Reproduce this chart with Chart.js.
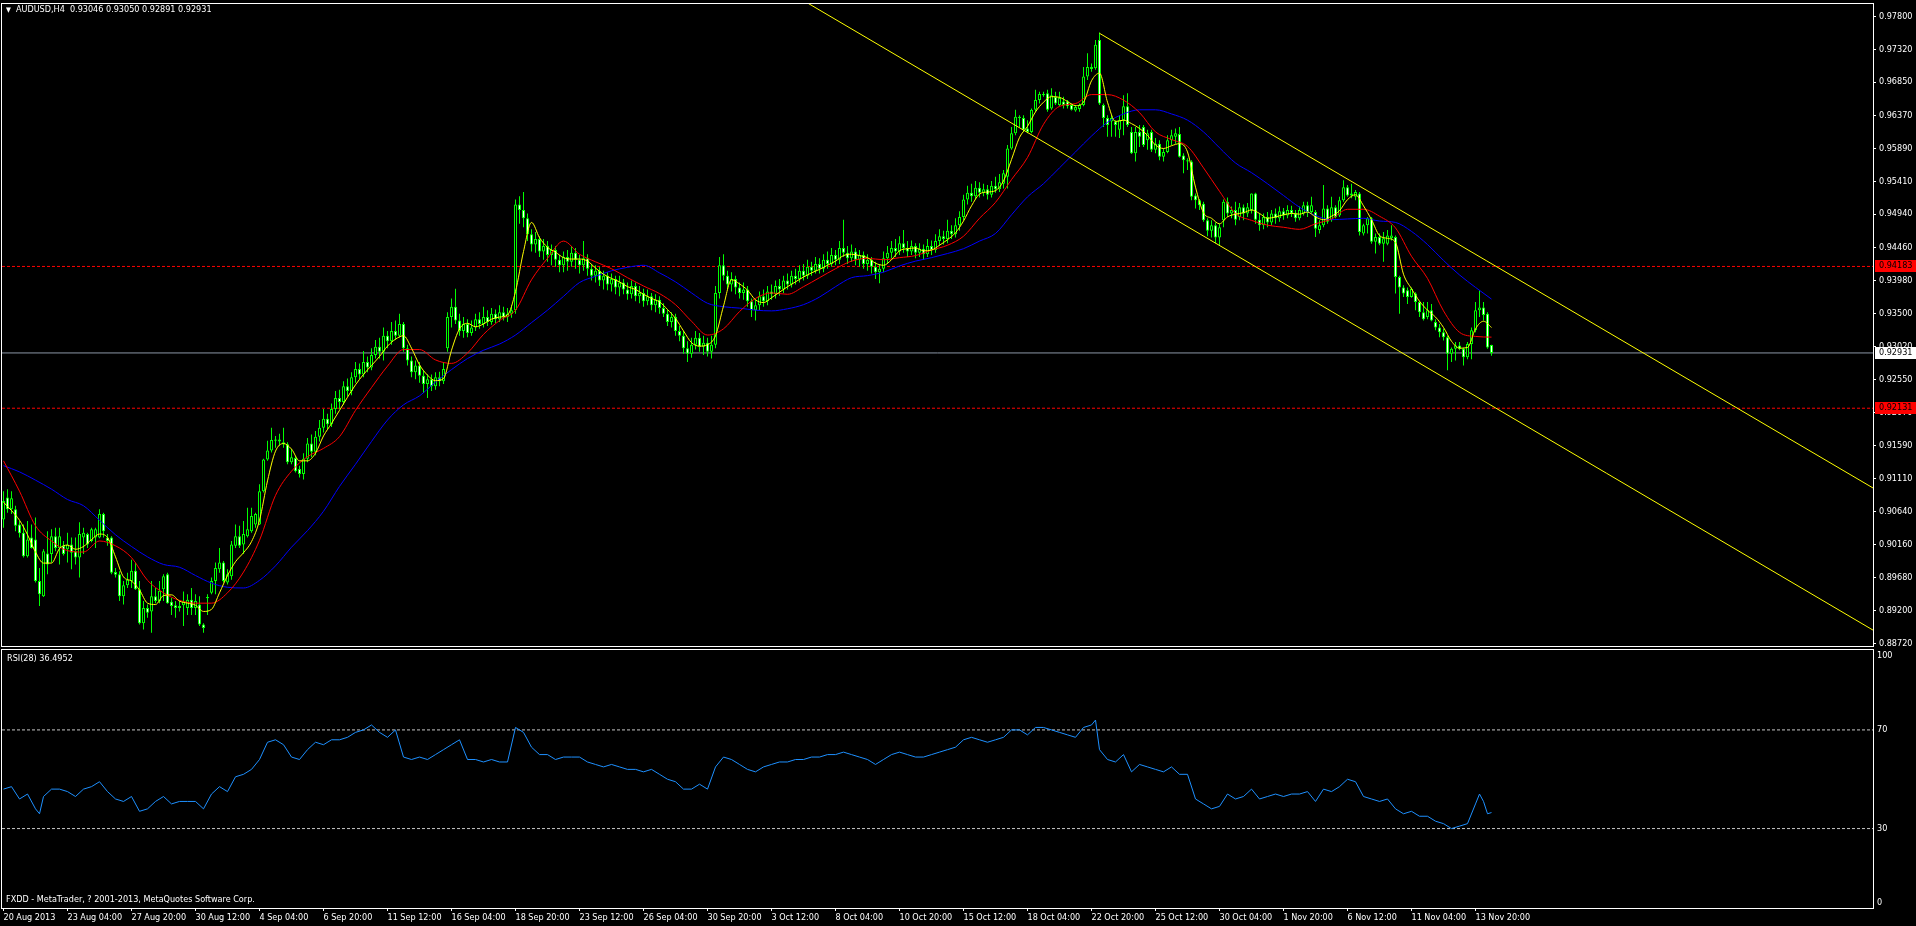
<!DOCTYPE html>
<html>
<head>
<meta charset="utf-8">
<title>AUDUSD,H4</title>
<script src="https://cdn.jsdelivr.net/npm/chart.js@4.4.1/dist/chart.umd.min.js"></script>
<style>
  html, body { margin: 0; padding: 0; background: #000; overflow: hidden; }
  #screen { position: relative; width: 1916px; height: 926px; background: #000; }
  #screen canvas { position: absolute; left: 0; }
  .txt { position: absolute; color: #fff; font: 9px "DejaVu Sans Condensed", "Liberation Sans", sans-serif; white-space: pre; line-height: 11px; }
</style>
</head>
<body>
<div id="screen">
  <canvas id="priceChart" width="1916" height="656" style="top:0"></canvas>
  <canvas id="rsiChart" width="1916" height="278" style="top:648px"></canvas>
  <div class="txt" id="hdr" style="left:6px;top:4px"></div>
  <div class="txt" id="rsiHdr" style="left:7px;top:653px"></div>
  <div class="txt" style="left:6px;top:894px">FXDD - MetaTrader, ? 2001-2013, MetaQuotes Software Corp.</div>
</div>
<script>
// ---- data: AUDUSD H4, one entry per bar (bar 0 = 20 Aug 2013 12:00) ----
const symbol = 'AUDUSD,H4';

const opens = [
  0.9052,0.9084,0.9067,0.9067,0.9045,0.9033,0.8999,0.9026,0.9023,0.8963,0.8941,0.9003,0.9002,0.9028,0.9011,0.9014,
  0.9009,0.9016,0.9006,0.8997,0.9026,0.9031,0.9021,0.9026,0.9026,0.9060,0.9026,0.9026,0.8976,0.8973,0.8941,0.8957,
  0.8963,0.8978,0.8951,0.8902,0.8924,0.8919,0.8941,0.8934,0.8951,0.8973,0.8933,0.8928,0.8924,0.8928,0.8924,0.8936,
  0.8924,0.8929,0.8900,0.8938,0.8946,0.8963,0.8980,0.8990,0.8961,0.8970,0.9014,0.9028,0.9016,0.9028,0.9035,0.9045,
  0.9045,0.9093,0.9139,0.9152,0.9166,0.9168,0.9164,0.9161,0.9135,0.9141,0.9125,0.9118,0.9140,0.9162,0.9150,0.9172,
  0.9185,0.9198,0.9190,0.9212,0.9228,0.9222,0.9245,0.9238,0.9258,0.9270,0.9262,0.9280,0.9272,0.9290,0.9302,0.9295,
  0.9318,0.9310,0.9325,0.9318,0.9335,0.9300,0.9282,0.9265,0.9275,0.9260,0.9248,0.9255,0.9245,0.9258,0.9252,0.9300,
  0.9345,0.9360,0.9340,0.9325,0.9335,0.9322,0.9330,0.9342,0.9335,0.9345,0.9338,0.9350,0.9342,0.9352,0.9345,0.9350,
  0.9355,0.9508,0.9500,0.9488,0.9465,0.9450,0.9458,0.9440,0.9448,0.9435,0.9442,0.9428,0.9420,0.9432,0.9425,0.9438,
  0.9428,0.9420,0.9430,0.9415,0.9405,0.9412,0.9398,0.9405,0.9392,0.9400,0.9388,0.9395,0.9385,0.9378,0.9390,0.9375,
  0.9380,0.9368,0.9375,0.9362,0.9370,0.9358,0.9350,0.9338,0.9345,0.9325,0.9318,0.9300,0.9292,0.9305,0.9315,0.9302,
  0.9308,0.9295,0.9305,0.9380,0.9420,0.9405,0.9392,0.9400,0.9388,0.9380,0.9385,0.9368,0.9355,0.9362,0.9375,0.9368,
  0.9382,0.9378,0.9390,0.9385,0.9398,0.9392,0.9405,0.9400,0.9412,0.9405,0.9418,0.9412,0.9422,0.9415,0.9428,0.9422,
  0.9435,0.9428,0.9445,0.9438,0.9430,0.9440,0.9428,0.9435,0.9422,0.9428,0.9418,0.9410,0.9415,0.9430,0.9438,0.9445,
  0.9440,0.9452,0.9445,0.9440,0.9448,0.9438,0.9444,0.9436,0.9448,0.9442,0.9455,0.9462,0.9458,0.9470,0.9465,0.9478,
  0.9490,0.9515,0.9525,0.9520,0.9532,0.9525,0.9530,0.9522,0.9535,0.9530,
  0.9538,0.9548,0.9589,0.9611,0.9635,0.9633,0.9618,0.9613,0.9645,0.9659,0.9668,0.9669,0.9647,0.9664,0.9652,0.9657,
  0.9657,0.9652,0.9644,0.9646,0.9652,0.9693,0.9704,0.9705,0.9746,0.9652,0.9633,0.9628,0.9628,0.9616,0.9630,0.9650,
  0.9613,0.9582,0.9613,0.9620,0.9601,0.9613,0.9587,0.9596,0.9577,0.9584,0.9601,0.9606,0.9610,0.9579,0.9572,0.9570,
  0.9521,0.9514,0.9509,0.9485,0.9470,0.9478,0.9460,0.9485,0.9512,0.9495,0.9500,0.9490,0.9504,0.9495,0.9500,0.9524,
  0.9486,0.9478,0.9490,0.9482,0.9495,0.9488,0.9498,0.9492,0.9500,0.9495,0.9488,0.9495,0.9507,0.9497,0.9497,0.9471,
  0.9478,0.9502,0.9485,0.9504,0.9492,0.9514,0.9533,0.9521,0.9519,0.9524,0.9466,0.9478,0.9488,0.9454,0.9461,0.9451,
  0.9451,0.9459,0.9461,0.9403,0.9388,0.9384,0.9374,0.9379,0.9367,0.9352,0.9345,0.9355,0.9338,0.9330,0.9323,0.9316,
  0.9292,0.9299,0.9304,0.9299,0.9287,0.9306,0.9326,0.9355,0.9359,0.9350,0.93046
];
const highs = [
  0.9093,0.9096,0.9093,0.9072,0.9050,0.9045,0.9050,0.9045,0.9055,0.8982,0.9009,0.9035,0.9038,0.9040,0.9040,0.9021,
  0.9033,0.9026,0.9026,0.9048,0.9040,0.9033,0.9040,0.9040,0.9067,0.9062,0.9031,0.9028,0.8982,0.8977,0.8963,0.8975,
  0.8994,0.8990,0.8963,0.8934,0.8929,0.8963,0.8953,0.8963,0.8973,0.8975,0.8939,0.8934,0.8934,0.8948,0.8944,0.8953,
  0.8944,0.8941,0.8902,0.8944,0.8968,0.8990,0.9011,0.8992,0.8980,0.9021,0.9045,0.9043,0.9050,0.9069,0.9069,0.9062,
  0.9103,0.9140,0.9166,0.9185,0.9173,0.9176,0.9185,0.9164,0.9154,0.9144,0.9130,0.9148,0.9170,0.9175,0.9180,0.9196,
  0.9212,0.9205,0.9220,0.9238,0.9240,0.9252,0.9256,0.9265,0.9280,0.9278,0.9296,0.9288,0.9300,0.9312,0.9315,0.9330,
  0.9325,0.9338,0.9340,0.9350,0.9338,0.9305,0.9288,0.9282,0.9280,0.9268,0.9262,0.9262,0.9265,0.9266,0.9280,0.9352,
  0.9372,0.9386,0.9350,0.9345,0.9342,0.9340,0.9350,0.9352,0.9360,0.9355,0.9358,0.9356,0.9362,0.9360,0.9358,0.9362,
  0.9515,0.9520,0.9526,0.9495,0.9472,0.9468,0.9462,0.9458,0.9455,0.9450,0.9448,0.9435,0.9440,0.9442,0.9448,0.9445,
  0.9435,0.9455,0.9436,0.9422,0.9420,0.9418,0.9412,0.9410,0.9408,0.9405,0.9405,0.9400,0.9395,0.9398,0.9395,0.9390,
  0.9386,0.9385,0.9380,0.9378,0.9375,0.9365,0.9356,0.9352,0.9350,0.9332,0.9325,0.9310,0.9315,0.9325,0.9322,0.9318,
  0.9315,0.9318,0.9390,0.9432,0.9436,0.9412,0.9410,0.9405,0.9395,0.9395,0.9390,0.9372,0.9370,0.9382,0.9385,0.9390,
  0.9392,0.9398,0.9400,0.9405,0.9408,0.9412,0.9415,0.9420,0.9422,0.9428,0.9425,0.9432,0.9430,0.9436,0.9440,0.9445,
  0.9442,0.9455,0.9486,0.9448,0.9450,0.9445,0.9442,0.9440,0.9436,0.9432,0.9425,0.9422,0.9440,0.9448,0.9455,0.9458,
  0.9462,0.9471,0.9455,0.9456,0.9452,0.9452,0.9450,0.9458,0.9456,0.9465,0.9472,0.9470,0.9486,0.9478,0.9488,0.9498,
  0.9522,0.9535,0.9538,0.9542,0.9540,0.9538,0.9536,0.9542,0.9548,0.9552,
  0.9558,0.9594,0.9620,0.9645,0.9637,0.9637,0.9630,0.9647,0.9674,0.9671,0.9671,0.9674,0.9676,0.9671,0.9671,0.9664,
  0.9659,0.9654,0.9652,0.9654,0.9707,0.9727,0.9712,0.9746,0.9757,0.9654,0.9637,0.9637,0.9630,0.9637,0.9666,0.9669,
  0.9620,0.9620,0.9623,0.9623,0.9616,0.9616,0.9604,0.9601,0.9589,0.9608,0.9616,0.9618,0.9620,0.9582,0.9575,0.9572,
  0.9524,0.9516,0.9512,0.9488,0.9485,0.9482,0.9480,0.9515,0.9518,0.9505,0.9512,0.9510,0.9508,0.9510,0.9524,0.9525,
  0.9495,0.9495,0.9497,0.9500,0.9502,0.9505,0.9503,0.9507,0.9506,0.9500,0.9505,0.9512,0.9512,0.9519,0.9500,0.9485,
  0.9536,0.9507,0.9519,0.9507,0.9519,0.9543,0.9536,0.9538,0.9529,0.9526,0.9480,0.9490,0.9490,0.9466,0.9466,0.9468,
  0.9471,0.9478,0.9463,0.9405,0.9391,0.9388,0.9388,0.9381,0.9368,0.9367,0.9367,0.9364,0.9342,0.9335,0.9328,0.9318,
  0.9301,0.9309,0.9309,0.9301,0.9309,0.9330,0.9367,0.9384,0.9367,0.9352,0.93050
];
const lows = [
  0.9040,0.9062,0.9060,0.9035,0.9026,0.8997,0.8997,0.9010,0.8961,0.8927,0.8940,0.8973,0.8990,0.9006,0.8987,0.9000,
  0.8990,0.8980,0.8987,0.8968,0.9002,0.9011,0.9019,0.9011,0.9025,0.9026,0.9014,0.8973,0.8968,0.8934,0.8929,0.8953,
  0.8953,0.8950,0.8900,0.8893,0.8910,0.8888,0.8931,0.8931,0.8934,0.8930,0.8914,0.8910,0.8919,0.8898,0.8914,0.8914,
  0.8914,0.8898,0.8888,0.8914,0.8944,0.8944,0.8975,0.8961,0.8958,0.8965,0.9011,0.9011,0.9002,0.9026,0.9033,0.9040,
  0.9044,0.9091,0.9137,0.9149,0.9156,0.9159,0.9156,0.9132,0.9132,0.9120,0.9113,0.9110,0.9135,0.9142,0.9145,0.9165,
  0.9178,0.9182,0.9186,0.9205,0.9212,0.9218,0.9230,0.9232,0.9250,0.9255,0.9258,0.9265,0.9268,0.9285,0.9285,0.9282,
  0.9300,0.9305,0.9312,0.9315,0.9295,0.9275,0.9258,0.9255,0.9250,0.9235,0.9228,0.9238,0.9240,0.9245,0.9248,0.9295,
  0.9330,0.9335,0.9318,0.9315,0.9316,0.9318,0.9325,0.9328,0.9330,0.9332,0.9334,0.9336,0.9338,0.9340,0.9338,0.9344,
  0.9350,0.9480,0.9475,0.9455,0.9440,0.9438,0.9432,0.9428,0.9425,0.9420,0.9418,0.9410,0.9410,0.9412,0.9418,0.9415,
  0.9408,0.9412,0.9405,0.9398,0.9395,0.9390,0.9385,0.9384,0.9382,0.9378,0.9375,0.9378,0.9370,0.9372,0.9368,0.9365,
  0.9360,0.9362,0.9355,0.9352,0.9350,0.9345,0.9332,0.9330,0.9318,0.9310,0.9292,0.9280,0.9286,0.9298,0.9295,0.9290,
  0.9288,0.9285,0.9300,0.9372,0.9398,0.9385,0.9382,0.9378,0.9372,0.9370,0.9360,0.9345,0.9340,0.9355,0.9360,0.9362,
  0.9370,0.9372,0.9376,0.9380,0.9385,0.9388,0.9392,0.9395,0.9398,0.9400,0.9405,0.9408,0.9408,0.9410,0.9415,0.9418,
  0.9420,0.9422,0.9432,0.9422,0.9425,0.9420,0.9418,0.9415,0.9412,0.9408,0.9400,0.9394,0.9410,0.9422,0.9430,0.9432,
  0.9435,0.9438,0.9432,0.9435,0.9430,0.9432,0.9428,0.9432,0.9435,0.9438,0.9448,0.9450,0.9452,0.9458,0.9460,0.9470,
  0.9485,0.9508,0.9512,0.9515,0.9518,0.9520,0.9515,0.9518,0.9525,0.9526,
  0.9531,0.9531,0.9587,0.9608,0.9620,0.9613,0.9611,0.9611,0.9642,0.9654,0.9664,0.9642,0.9645,0.9652,0.9650,0.9647,
  0.9647,0.9644,0.9642,0.9642,0.9650,0.9688,0.9700,0.9703,0.9652,0.9620,0.9606,0.9606,0.9606,0.9604,0.9608,0.9620,
  0.9581,0.9570,0.9591,0.9591,0.9587,0.9584,0.9582,0.9572,0.9570,0.9582,0.9594,0.9596,0.9576,0.9553,0.9558,0.9514,
  0.9502,0.9500,0.9483,0.9462,0.9460,0.9452,0.9448,0.9475,0.9490,0.9488,0.9478,0.9485,0.9485,0.9490,0.9495,0.9480,
  0.9470,0.9472,0.9475,0.9478,0.9480,0.9483,0.9486,0.9488,0.9490,0.9483,0.9485,0.9492,0.9490,0.9495,0.9461,0.9466,
  0.9475,0.9480,0.9483,0.9488,0.9490,0.9512,0.9519,0.9517,0.9514,0.9463,0.9463,0.9466,0.9451,0.9437,0.9449,0.9425,
  0.9449,0.9456,0.9379,0.9350,0.9374,0.9364,0.9373,0.9355,0.9345,0.9340,0.9342,0.9339,0.9326,0.9316,0.9311,0.9268,
  0.9280,0.9282,0.9297,0.9275,0.9284,0.9284,0.9323,0.9345,0.9340,0.9299,0.92891
];
const closes = [
  0.9079,0.9067,0.9083,0.9043,0.9032,0.8999,0.9023,0.9011,0.8963,0.8944,0.9006,0.8987,0.9028,0.9011,0.9028,0.9002,
  0.9016,0.9004,0.8997,0.9031,0.9033,0.9016,0.9038,0.9038,0.9060,0.9035,0.9021,0.8975,0.8972,0.8941,0.8957,0.8965,
  0.8978,0.8951,0.8902,0.8924,0.8917,0.8941,0.8934,0.8949,0.8970,0.8931,0.8927,0.8924,0.8927,0.8933,0.8936,0.8924,
  0.8934,0.8900,0.8895,0.8940,0.8963,0.8982,0.8990,0.8963,0.8973,0.9016,0.9028,0.9014,0.9031,0.9038,0.9057,0.9060,
  0.9093,0.9139,0.9152,0.9167,0.9168,0.9165,0.9161,0.9135,0.9142,0.9122,0.9118,0.9140,0.9162,0.9150,0.9172,0.9185,
  0.9198,0.9190,0.9212,0.9228,0.9222,0.9245,0.9238,0.9258,0.9270,0.9262,0.9280,0.9272,0.9290,0.9302,0.9295,0.9318,
  0.9310,0.9325,0.9318,0.9335,0.9300,0.9282,0.9265,0.9275,0.9260,0.9248,0.9255,0.9245,0.9258,0.9252,0.9270,0.9345,
  0.9360,0.9340,0.9325,0.9335,0.9322,0.9330,0.9342,0.9335,0.9345,0.9338,0.9350,0.9342,0.9352,0.9345,0.9350,0.9355,
  0.9508,0.9500,0.9488,0.9465,0.9450,0.9458,0.9440,0.9448,0.9435,0.9442,0.9428,0.9420,0.9432,0.9425,0.9438,0.9428,
  0.9420,0.9430,0.9415,0.9405,0.9412,0.9398,0.9405,0.9392,0.9400,0.9388,0.9395,0.9385,0.9378,0.9390,0.9375,0.9380,
  0.9368,0.9375,0.9362,0.9370,0.9358,0.9350,0.9338,0.9345,0.9325,0.9318,0.9300,0.9292,0.9305,0.9315,0.9302,0.9308,
  0.9295,0.9305,0.9380,0.9420,0.9405,0.9392,0.9400,0.9388,0.9380,0.9385,0.9368,0.9355,0.9362,0.9375,0.9368,0.9382,
  0.9378,0.9390,0.9385,0.9398,0.9392,0.9405,0.9400,0.9412,0.9405,0.9418,0.9412,0.9422,0.9415,0.9428,0.9422,0.9435,
  0.9428,0.9445,0.9438,0.9430,0.9440,0.9428,0.9435,0.9422,0.9428,0.9418,0.9410,0.9415,0.9430,0.9438,0.9445,0.9440,
  0.9452,0.9445,0.9440,0.9448,0.9438,0.9444,0.9436,0.9448,0.9442,0.9455,0.9462,0.9458,0.9470,0.9465,0.9478,0.9490,
  0.9515,0.9525,0.9520,0.9532,0.9525,0.9530,0.9522,0.9535,0.9530,0.9540,
  0.9553,0.9589,0.9611,0.9635,0.9633,0.9616,0.9613,0.9645,0.9659,0.9668,0.9666,0.9645,0.9666,0.9654,0.9662,0.9652,
  0.9650,0.9645,0.9649,0.9652,0.9693,0.9707,0.9707,0.9739,0.9654,0.9633,0.9623,0.9633,0.9623,0.9630,0.9650,0.9623,
  0.9582,0.9613,0.9606,0.9594,0.9611,0.9587,0.9596,0.9577,0.9584,0.9601,0.9608,0.9611,0.9577,0.9572,0.9570,0.9519,
  0.9514,0.9507,0.9485,0.9470,0.9478,0.9460,0.9475,0.9512,0.9495,0.9500,0.9486,0.9504,0.9495,0.9504,0.9524,0.9486,
  0.9478,0.9490,0.9482,0.9495,0.9488,0.9498,0.9492,0.9500,0.9495,0.9488,0.9500,0.9507,0.9497,0.9507,0.9473,0.9478,
  0.9502,0.9483,0.9504,0.9490,0.9514,0.9533,0.9521,0.9524,0.9526,0.9468,0.9478,0.9488,0.9454,0.9461,0.9451,0.9459,
  0.9463,0.9463,0.9403,0.9388,0.9379,0.9374,0.9386,0.9367,0.9352,0.9342,0.9355,0.9340,0.9330,0.9323,0.9316,0.9292,
  0.9299,0.9304,0.9299,0.9287,0.9306,0.9326,0.9355,0.9359,0.9348,0.9301,0.92931
];

// moving averages: yellow every 2 bars, red and blue every 4 bars
const yellowStep = 2, redStep = 4, blueStep = 4;
const yellowMA = [
  0.9077,0.9065,0.9051,0.9030,0.9005,0.8989,0.8989,0.9010,0.9015,0.9009,0.9013,0.9023,0.9031,0.9026,0.8998,0.8969,
  0.8963,0.8950,0.8931,0.8929,0.8942,0.8943,0.8934,0.8931,0.8928,0.8919,0.8922,0.8946,0.8971,0.8991,0.9004,0.9020,
  0.9051,0.9108,0.9151,0.9162,0.9154,0.9137,
  0.9137,0.9148,0.9173,0.9191,0.9210,0.9229,0.9247,0.9262,0.9275,0.9288,0.9303,0.9313,0.9318,0.9300,0.9276,0.9261,
  0.9253,0.9256,0.9297,0.9328,0.9336,0.9331,0.9335,0.9342,0.9345,0.9348,0.9382,0.9440,0.9482,0.9460,0.9446,0.9439,
  0.9431,0.9429,0.9429,0.9426,0.9416,0.9407,0.9401,0.9396,0.9389,0.9385,0.9378,0.9372,0.9367,0.9356,0.9343,0.9325,
  0.9308,0.9303,0.9305,0.9318,0.9361,0.9399,0.9393,0.9384,0.9370,0.9366,0.9373,0.9381,0.9389,0.9396,0.9403,0.9409,
  0.9414,0.9420,0.9426,0.9434,0.9436,0.9434,0.9431,0.9423,0.9420,0.9428,0.9441,0.9444,0.9445,0.9441,0.9442,0.9449,
  0.9457,0.9467,0.9484,0.9506,0.9523,0.9526,0.9528,
  0.9542,0.9573,0.9605,0.9621,0.9642,0.9656,0.9664,0.9663,0.9657,0.9651,0.9656,0.9687,0.9698,0.9656,0.9628,0.9630,
  0.9625,0.9618,0.9608,0.9594,0.9589,0.9593,0.9596,0.9584,0.9533,0.9496,
  0.9488,0.9480,0.9490,0.9494,0.9496,0.9500,0.9495,0.9488,0.9490,0.9493,0.9495,0.9494,
  0.9497,0.9490,0.9486,0.9491,0.9499,0.9515,0.9522,0.9506,0.9486,0.9463,0.9459,0.9453,0.9407,0.9386,0.9368,0.9355,
  0.9345,0.9330,0.9310,0.9300,0.9301,0.9328,0.9339,0.9330
];
const redMA = [
  0.9137,0.9093,0.9043,0.9021,0.9007,0.9005,0.9021,0.9014,0.8997,0.8964,0.8946,0.8935,0.8931,0.8931,0.8946,0.8976,
  0.9022,0.9087,0.9122,
  0.9143,0.9155,0.9172,0.9210,0.9243,0.9274,0.9298,0.9298,0.9283,0.9278,0.9293,0.9320,0.9340,0.9355,0.9399,0.9430,
  0.9455,0.9436,0.9425,0.9415,0.9402,0.9390,0.9379,0.9363,0.9339,0.9319,0.9328,0.9353,0.9372,0.9380,0.9378,0.9389,
  0.9402,0.9415,0.9426,0.9430,0.9428,0.9431,0.9434,0.9442,0.9449,0.9462,0.9488,0.9511,
  0.9544,0.9576,0.9624,0.9650,0.9654,0.9667,0.9667,0.9659,0.9641,0.9613,0.9602,0.9592,0.9561,0.9527,0.9495,0.9485,
  0.9478,0.9475,0.9472,
  0.9480,0.9487,0.9501,0.9501,0.9491,0.9474,0.9433,0.9401,0.9354,0.9323,0.9317,0.9316
];
const blueMA = [
  0.9130,0.9121,0.9109,0.9096,0.9081,0.9072,0.9051,0.9030,0.9013,0.8998,0.8987,0.8983,0.8971,0.8960,0.8954,0.8953,
  0.8964,0.8985,0.9012,
  0.9036,0.9064,0.9100,0.9132,0.9165,0.9196,0.9218,0.9231,0.9251,0.9269,0.9285,0.9297,0.9306,0.9319,0.9337,0.9355,
  0.9375,0.9395,0.9404,0.9412,0.9417,0.9420,0.9409,0.9396,0.9380,0.9365,0.9360,0.9358,0.9355,0.9354,0.9357,0.9363,
  0.9374,0.9389,0.9402,0.9405,0.9410,0.9419,0.9426,0.9431,0.9437,0.9444,0.9455,0.9466,
  0.9493,0.9519,0.9538,0.9561,0.9584,0.9607,0.9627,0.9639,0.9645,0.9645,0.9639,0.9630,0.9613,0.9590,0.9568,0.9554,
  0.9538,0.9521,0.9504,
  0.9492,0.9486,0.9487,0.9488,0.9484,0.9482,0.9469,0.9450,0.9427,0.9406,0.9388,0.9371
];

// RSI(28) as [bar, value] points
const rsiPoints = [
  [0,46],[2,47],[4,42],[6,44],[8,38],[9,36],[10,43],[12,46],[14,46],[16,45],[18,43],[20,46],[22,47],[24,49],[26,45],
  [28,42],[30,41],[32,43],[34,37],[36,38],[38,41],[40,43],[42,40],[44,41],[46,41],[48,41],[50,38],[52,44],[54,47],
  [56,45],[58,51],[60,52],[62,54],[64,58],[66,65],[68,66],[70,64],[72,59],[74,58],[76,62],[78,65],[80,64],[82,66],
  [84,66],[86,67],[88,69],[90,70],[92,72],[94,69],[96,67],[98,70],[100,59],[102,58],[104,59],[106,58],[108,60],
  [110,62],[112,64],[114,66],[116,58],[118,58],[120,57],[122,58],[124,57],[126,57],[128,71],[130,69],[132,63],
  [134,60],[136,60],[138,58],[140,59],[142,59],[144,59],[146,57],[148,56],[150,55],[152,56],[154,55],[156,54],
  [158,54],[160,53],[162,54],[164,52],[166,50],[168,49],[170,46],[172,46],[174,48],[176,46],[178,55],[180,59],
  [182,58],[184,56],[186,54],[188,53],[190,55],[192,56],[194,57],[196,57],[198,58],[200,58],[202,59],[204,59],
  [206,60],[208,60],[210,61],[212,60],[214,59],[216,58],[218,56],[220,58],[222,60],[224,61],[226,60],[228,59],
  [230,59],[232,60],[234,61],[236,62],[238,63],[240,66],[242,67],[244,66],[246,65],[248,66],[250,67],[252,70],
  [254,70],[256,68],[258,71],[260,71],[262,70],[264,69],[266,68],[268,67],[270,71],[272,72],[273,74],[274,62],
  [276,58],[278,57],[280,60],[282,53],[284,56],[286,55],[288,54],[290,53],[292,55],[294,52],[296,52],[298,42],
  [300,40],[302,38],[304,39],[306,44],[308,42],[310,43],[312,46],[314,42],[316,43],[318,44],[320,43],[322,44],
  [324,44],[326,45],[328,41],[330,46],[332,45],[334,47],[336,50],[338,49],[340,43],[342,42],[344,41],[346,42],
  [348,38],[350,36],[352,37],[354,35],[356,35],[358,33],[360,32],[362,30],[364,31],[366,32],[368,40],[369,44],
  [370,41],[371,36],[372,36.4952]
];

// channel trend lines: [bar, price] anchor pairs
const upperChannel = [[274, 0.97557], [467.375, 0.90977]];
const lowerChannel = [[200, 0.98030], [467.375, 0.88920]];
const levelLines = [0.94183, 0.92131];
const rsiLevels = [70, 30];

const priceTicks = [0.97800,0.97320,0.96850,0.96370,0.95890,0.95410,0.94940,0.94460,0.93980,0.93500,
                    0.93020,0.92550,0.92070,0.91590,0.91110,0.90640,0.90160,0.89680,0.89200,0.88720];
const rsiTicks = [0, 30, 70, 100];
const tickStep = 16;
const tickLabels = ['20 Aug 2013','23 Aug 04:00','27 Aug 20:00','30 Aug 12:00','4 Sep 04:00','6 Sep 20:00',
  '11 Sep 12:00','16 Sep 04:00','18 Sep 20:00','23 Sep 12:00','26 Sep 04:00','30 Sep 20:00','3 Oct 12:00',
  '8 Oct 04:00','10 Oct 20:00','15 Oct 12:00','18 Oct 04:00','22 Oct 20:00','25 Oct 12:00','30 Oct 04:00',
  '1 Nov 20:00','6 Nov 12:00','11 Nov 04:00','13 Nov 20:00'];

// ---- view settings ----
const X_MIN = -0.375, X_MAX = 467.375;
const PRICE_MIN = 0.88690, PRICE_MAX = 0.97981;
const RSI_MIN = -2.2, RSI_MAX = 102.4;
const FONT = '"DejaVu Sans Condensed", "Liberation Sans", sans-serif';
const LIME = '#00ff00';

Chart.defaults.font.family = FONT;
Chart.defaults.font.size = 9;
Chart.defaults.color = '#ffffff';

const last = closes.length - 1;
const f5 = v => v.toFixed(5);
document.getElementById('hdr').innerHTML =
  '<span style="font-size:7px">&#9660;</span>  ' + symbol + '  ' +
  [opens[last], highs[last], lows[last], closes[last]].map(f5).join(' ');
document.getElementById('rsiHdr').textContent = 'RSI(28) ' + rsiPoints[rsiPoints.length - 1][1].toFixed(4);

// ---- build datasets ----
const wickData = [], bodyData = [];
closes.forEach((c, i) => {
  wickData.push({ x: i, y: [lows[i], highs[i]] });
  bodyData.push({ x: i, y: [Math.min(opens[i], c), Math.max(opens[i], c)], up: c > opens[i] });
});
const sampled = (arr, step) => arr.map((v, k) => ({ x: k * step, y: v }));
const hline = v => [{ x: X_MIN, y: v }, { x: X_MAX, y: v }];
const seg = pts => pts.map(p => ({ x: p[0], y: p[1] }));

const lineBase = { type: 'line', pointRadius: 0, borderWidth: 1, fill: false, spanGaps: false };
const barBase = { type: 'bar', grouped: false, barPercentage: 1, categoryPercentage: 1,
                  inflateAmount: 0, borderSkipped: false };

const framePlugin = {
  id: 'frame',
  afterDraw(chart) {
    const { ctx, chartArea: a } = chart;
    ctx.save();
    ctx.strokeStyle = '#ffffff';
    ctx.lineWidth = 1;
    ctx.strokeRect(a.left - 0.5, a.top - 0.5, a.right - a.left + 1, a.bottom - a.top + 1);
    ctx.restore();
  }
};

const levelTags = [
  { value: levelLines[0], bg: '#ff0000', fg: '#000000' },
  { value: levelLines[1], bg: '#ff0000', fg: '#000000' },
  { value: closes[last], bg: '#ffffff', fg: '#000000' }
];
const tagPlugin = {
  id: 'levelTags',
  afterDraw(chart) {
    const { ctx, chartArea: a, scales: { y } } = chart;
    ctx.save();
    ctx.font = '9px ' + FONT;
    ctx.textBaseline = 'middle';
    levelTags.forEach(t => {
      const py = Math.round(y.getPixelForValue(t.value));
      ctx.fillStyle = t.bg;
      ctx.fillRect(a.right + 2, py - 6, 41, 12);
      ctx.fillStyle = t.fg;
      ctx.fillText(f5(t.value), a.right + 6, py);
    });
    ctx.restore();
  }
};

// ---- price panel ----
new Chart(document.getElementById('priceChart'), {
  type: 'bar',
  data: {
    datasets: [
      { ...lineBase, data: seg(upperChannel), borderColor: '#ffff00', order: 0 },
      { ...lineBase, data: seg(lowerChannel), borderColor: '#ffff00', order: 0 },
      { ...lineBase, data: sampled(yellowMA, yellowStep), borderColor: '#ffff00', cubicInterpolationMode: 'monotone', order: 1 },
      { ...lineBase, data: sampled(redMA, redStep), borderColor: '#ff0000', cubicInterpolationMode: 'monotone', order: 2 },
      { ...lineBase, data: sampled(blueMA, blueStep), borderColor: '#0000ff', cubicInterpolationMode: 'monotone', order: 3 },
      { ...barBase, data: bodyData, barThickness: 3, maxBarThickness: 3, minBarLength: 1, borderWidth: 1,
        borderColor: LIME, backgroundColor: c => (c.raw && c.raw.up) ? '#000000' : '#ffffff', order: 5 },
      { ...barBase, data: wickData, barThickness: 1, maxBarThickness: 1, borderWidth: 0,
        backgroundColor: LIME, order: 6 },
      { ...lineBase, data: hline(closes[last]), borderColor: '#8c96a6', order: 8 },
      { ...lineBase, data: hline(levelLines[0]), borderColor: '#ff0000', borderDash: [3, 2], order: 8 },
      { ...lineBase, data: hline(levelLines[1]), borderColor: '#ff0000', borderDash: [3, 2], order: 8 }
    ]
  },
  options: {
    responsive: false,
    animation: false,
    events: [],
    layout: { padding: { left: 2, top: 4, bottom: 10, right: 0 } },
    plugins: { legend: { display: false }, tooltip: { enabled: false } },
    scales: {
      x: { type: 'linear', min: X_MIN, max: X_MAX, display: false, offset: false },
      y: {
        type: 'linear', position: 'right', min: PRICE_MIN, max: PRICE_MAX,
        afterBuildTicks: s => { s.ticks = priceTicks.map(v => ({ value: v })); },
        afterFit: s => { s.width = 43; s.paddingTop = 0; s.paddingBottom = 0; },
        ticks: { callback: v => f5(v), padding: 3, color: '#ffffff', autoSkip: false },
        grid: { drawOnChartArea: false, drawTicks: true, tickLength: 3, color: '#ffffff' },
        border: { display: true, color: '#ffffff' }
      }
    }
  },
  plugins: [framePlugin, tagPlugin]
});

// ---- RSI panel ----
new Chart(document.getElementById('rsiChart'), {
  type: 'line',
  data: {
    datasets: [
      { ...lineBase, data: seg(rsiPoints), borderColor: '#1e90ff', order: 1 },
      ...rsiLevels.map(v => ({ ...lineBase, data: hline(v), borderColor: '#c8c8c8', borderDash: [3, 2], order: 2 }))
    ]
  },
  options: {
    responsive: false,
    animation: false,
    events: [],
    layout: { padding: { left: 2, top: 2, bottom: 0, right: 0 } },
    plugins: { legend: { display: false }, tooltip: { enabled: false } },
    scales: {
      x: {
        type: 'linear', min: X_MIN, max: X_MAX, offset: false,
        afterBuildTicks: s => { s.ticks = tickLabels.map((t, i) => ({ value: i * tickStep })); },
        afterFit: s => { s.height = 18; s.paddingLeft = 0; s.paddingRight = 0; },
        ticks: { autoSkip: false, maxRotation: 0, align: 'start', padding: 1, color: '#ffffff',
                 callback: (v, i) => tickLabels[i] },
        grid: { drawOnChartArea: false, drawTicks: true, tickLength: 3, color: '#ffffff' },
        border: { display: true, color: '#ffffff' }
      },
      y: {
        type: 'linear', position: 'right', min: RSI_MIN, max: RSI_MAX,
        afterBuildTicks: s => { s.ticks = rsiTicks.map(v => ({ value: v })); },
        afterFit: s => { s.width = 43; s.paddingTop = 0; s.paddingBottom = 0; },
        ticks: { padding: 4, color: '#ffffff' },
        grid: { drawOnChartArea: false, drawTicks: false, color: '#ffffff' },
        border: { display: true, color: '#ffffff' }
      }
    }
  },
  plugins: [framePlugin]
});
</script>
</body>
</html>
